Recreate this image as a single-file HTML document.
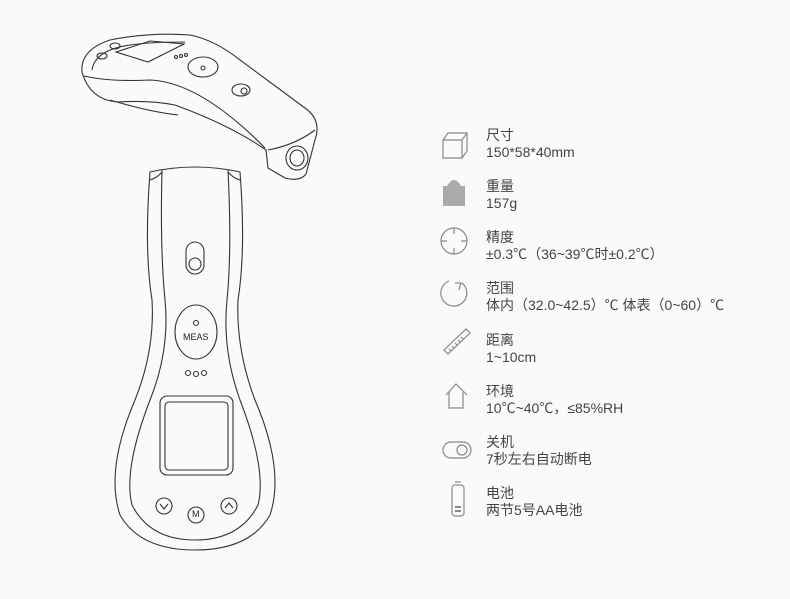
<!DOCTYPE html>
<html><head><meta charset="utf-8"><style>
body{margin:0;width:790px;height:599px;background:#fafafa;overflow:hidden;position:relative;font-family:"Liberation Sans","Noto Sans CJK SC",sans-serif;color:#444}
.t{position:absolute;left:486px;font-size:14px;line-height:17px;white-space:nowrap}
svg{position:absolute;left:0;top:0}
</style></head><body>
<svg width="790" height="599" fill="none" stroke="#333" stroke-width="1.1">
<!-- upper device -->
<path d="M82 72 Q80 50 110 40 Q150 32 190 35 Q215 40 240 60 L305 108 Q322 120 315 140 L306 174 Q300 182 285 178 L268 168 L266 150 Q230 125 175 105 Q150 100 118 102 Q90 100 82 72Z"/>
<path d="M84 76 Q110 82 150 80 Q200 82 265 148"/>
<path d="M92 70 Q95 50 130 45 Q150 42 185 42"/>
<path d="M268 150 Q295 145 315 130"/>
<ellipse cx="297" cy="158" rx="11" ry="12"/><ellipse cx="297" cy="158" rx="7" ry="8"/>
<path d="M116 52 L150 41 L184 44 L148 62Z"/>
<ellipse cx="203" cy="67" rx="15" ry="10"/><circle cx="203" cy="68" r="2"/>
<ellipse cx="241" cy="90" rx="9" ry="6"/><circle cx="244" cy="91" r="3"/>
<ellipse cx="102" cy="56" rx="5" ry="3"/><ellipse cx="115" cy="46" rx="5" ry="3"/>
<circle cx="176" cy="57" r="1.5"/><circle cx="181" cy="56" r="1.5"/><circle cx="186" cy="55" r="1.5"/>
<path d="M110 100 Q150 112 178 115"/>
<!-- lower device -->
<path d="M150 172 Q195 162 240 172 Q246 250 238 300 Q236 350 255 400 Q285 470 270 515 Q250 550 195 550 Q140 550 120 515 Q105 470 135 400 Q155 350 152 300 Q144 250 150 172Z"/>
<path d="M162 170 Q160 250 165 300 Q170 350 150 400 Q123 470 132 505 Q150 540 195 540 Q240 540 258 505 Q267 470 240 400 Q222 350 227 300 Q232 250 228 170"/>
<path d="M150 180 Q157 178 162 172 M240 180 Q233 178 228 172"/>
<rect x="186" y="242" width="18" height="32" rx="9"/><circle cx="195" cy="264" r="6"/>
<ellipse cx="196" cy="332" rx="21" ry="27"/>
<circle cx="196" cy="323" r="2.5"/>
<circle cx="188" cy="373" r="2.5"/><circle cx="196" cy="374" r="2.5"/><circle cx="204" cy="373" r="2.5"/>
<rect x="160" y="396" width="73" height="79" rx="7"/><rect x="165" y="402" width="63" height="68" rx="4"/>
<circle cx="164" cy="506" r="8"/><path d="M160 504 L164 509 L168 504"/>
<circle cx="196" cy="515" r="8"/>
<circle cx="229" cy="506" r="8"/><path d="M225 508 L229 503 L233 508"/>
<!-- icons -->
<g stroke="#888" stroke-width="1.2">
<path d="M443 140 L448 133 L467 133 L467 151 L462 158 L443 158Z M443 140 L462 140 L462 158 M462 140 L467 133"/>
<circle cx="454" cy="241" r="13"/><path d="M454 228 V234 M454 248 V254 M441 241 H447 M461 241 H467"/>
<path d="M449 281 A13 13 0 1 0 462 283 M455 283 L461 283 L459 290"/>
<path d="M444 350 L466 329 L470 333 L448 354Z M449 349 L451 351 M452 346 L454 348 M455 343 L457 345 M458 340 L460 342 M461 337 L463 339"/>
<path d="M446 395 L456 384 L467 395 M449 392 V408 H463 V392"/>
<rect x="443" y="442" width="28" height="16" rx="8"/><circle cx="462" cy="450" r="5"/>
<rect x="452" y="485" width="12" height="31" rx="3"/><path d="M455 482 H461"/>
</g>
<rect x="443" y="186" width="22" height="20" fill="#aaa" stroke="none"/>
<path d="M447 186 Q454 174 461 186Z" fill="#aaa" stroke="none"/>
<rect x="455" y="506" width="6" height="2" fill="#888" stroke="none"/><rect x="455" y="510" width="6" height="2" fill="#888" stroke="none"/>
</svg>
<div class="t" style="top:127px">尺寸<br>150*58*40mm</div>
<div class="t" style="top:178px">重量<br>157g</div>
<div class="t" style="top:229px">精度<br>±0.3℃（36~39℃时±0.2℃）</div>
<div class="t" style="top:280px">范围<br>体内（32.0~42.5）℃ 体表（0~60）℃</div>
<div class="t" style="top:332px">距离<br>1~10cm</div>
<div class="t" style="top:383px">环境<br>10℃~40℃，≤85%RH</div>
<div class="t" style="top:434px">关机<br>7秒左右自动断电</div>
<div class="t" style="top:485px">电池<br>两节5号AA电池</div>
<div style="position:absolute;left:183px;top:332px;font-size:9px;color:#222">MEAS</div>
<div style="position:absolute;left:192px;top:509px;font-size:9px;color:#222">M</div>
</body></html>
